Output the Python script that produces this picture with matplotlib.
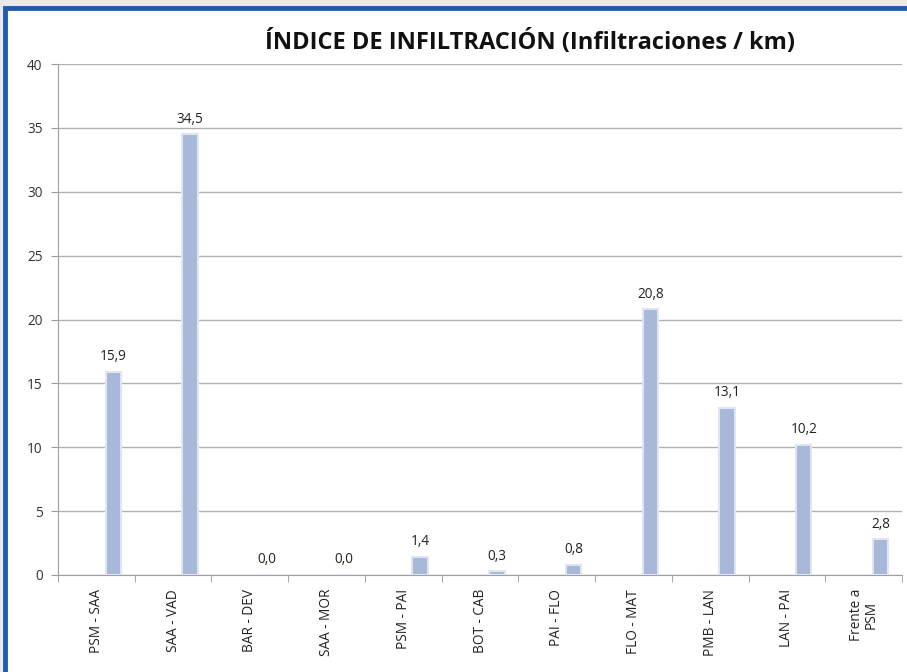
import matplotlib
matplotlib.use("Agg")
import matplotlib.pyplot as plt
from matplotlib.patches import Rectangle
import numpy as np

categories = ["PSM - SAA", "SAA - VAD", "BAR - DEV", "SAA - MOR", "PSM - PAI",
              "BOT - CAB", "PAI - FLO", "FLO - MAT", "PMB - LAN", "LAN - PAI",
              "Frente a\nPSM"]
values = [15.9, 34.5, 0.0, 0.0, 1.4, 0.3, 0.8, 20.8, 13.1, 10.2, 2.8]
value_labels = ["15,9", "34,5", "0,0", "0,0", "1,4", "0,3", "0,8", "20,8", "13,1", "10,2", "2,8"]
yticks = [0, 5, 10, 15, 20, 25, 30, 35, 40]
title = "ÍNDICE DE INFILTRACIÓN (Infiltraciones / km)"

plt.rcParams['font.family'] = ['Open Sans', 'DejaVu Sans']

W, H = 907, 672
fig = plt.figure(figsize=(W/100, H/100), dpi=100)
fig.patch.set_facecolor("#e9e9e9")

# white panel with blue frame
panel = Rectangle((5/W, -0.05), 1.1, (H-8)/H + 0.05, transform=fig.transFigure,
                  facecolor="white", edgecolor="#1f5cb0", linewidth=3.5, zorder=-10)
fig.patches.append(panel)

ax = fig.add_axes([58/W, 1-575/H, (902-58)/W, (575-64)/H])
ax.set_zorder(5)
ax.set_facecolor("none")
n = len(categories)
x = np.arange(n)
ax.set_xlim(-0.5, n-0.5)
ax.set_ylim(0, 40)

bw = 0.2
off = 0.22
bars = ax.bar(x + off, values, width=bw, color="#a8b8d8", edgecolor="#dfe6f3",
              linewidth=1.5, zorder=3)
for xi, v, lab in zip(x, values, value_labels):
    ax.text(xi + off, v + 0.6, lab, ha="center", va="bottom", fontsize=9.8, color="#222222")

ax.set_yticks(yticks)
ax.set_yticklabels([str(t) for t in yticks], fontsize=9.8, color="#333333")
ax.yaxis.grid(True, color="#b0b0b0", linewidth=1.0, zorder=0)
ax.set_axisbelow(True)

ax.set_xticks(x)
ax.set_xticklabels(categories, rotation=90, fontsize=9.8, color="#222222", ha="center", va="top",
                   linespacing=1.0)
ax.tick_params(axis="x", length=0, pad=10)
ax.set_xticks(np.arange(-0.5, n, 1), minor=True)
ax.tick_params(axis="x", which="minor", length=5, color="#999999", direction="out")
ax.tick_params(axis="y", length=5, color="#999999", direction="out", pad=6)

for s in ["top", "right"]:
    ax.spines[s].set_visible(False)
ax.spines["left"].set_color("#a0a0a0")
ax.spines["bottom"].set_color("#a0a0a0")

fig.text(530/W, 1-42/H, title, ha="center", va="center", fontsize=17, fontweight="bold",
         color="#111111")

fig.savefig("out.png", dpi=100, facecolor=fig.get_facecolor())
